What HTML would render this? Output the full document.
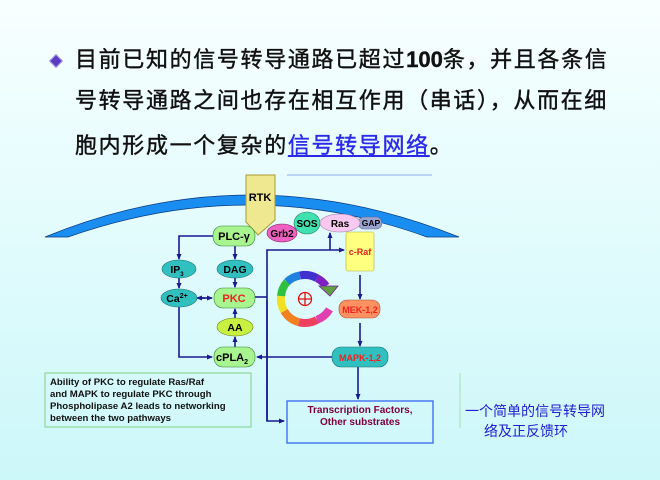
<!DOCTYPE html>
<html><head><meta charset="utf-8"><style>
html,body{margin:0;padding:0}
body{width:660px;height:480px;overflow:hidden;background:linear-gradient(#f8ffff 0%,#e6fcfd 40%,#ccf7f9 100%);position:relative;font-family:"Liberation Sans","Noto Sans CJK SC",sans-serif}
.t{position:absolute;left:75px;font-size:22px;letter-spacing:1.65px;color:#111;white-space:nowrap;font-family:"Liberation Sans","Noto Sans CJK SC",sans-serif;line-height:26px;-webkit-text-stroke:0.4px #111}
.t b{font-family:"Liberation Sans",sans-serif;letter-spacing:0}
a{color:#2a2ae8;text-decoration:underline;-webkit-text-stroke:0.4px #2a2ae8}
.r{position:absolute;font-size:14px;color:#2020d0;letter-spacing:0px;font-family:"Liberation Sans","Noto Sans CJK SC",sans-serif;white-space:nowrap}
</style></head><body>
<div style="position:absolute;left:51px;top:56px;width:8px;height:8px;background:#5a3cc0;transform:rotate(45deg);border:1px solid #b0a0f0"></div>
<div class="t" style="top:47px">目前已知的信号转导通路已超过<b>100</b>条，并且各条信</div>
<div class="t" style="top:88px">号转导通路之间也存在相互作用（串话），从而在细</div>
<div class="t" style="top:133px">胞内形成一个复杂的<a>信号转导网络</a>。</div>
<div class="r" style="left:465px;top:401px">一个简单的信号转导网</div>
<div class="r" style="left:484px;top:421px">络及正反馈环</div>
<svg width="660" height="480" style="position:absolute;left:0;top:0" xmlns="http://www.w3.org/2000/svg" font-family="Liberation Sans, Arial, sans-serif" font-weight="bold">
<defs><marker id="a" markerWidth="6" markerHeight="6" refX="5" refY="3" orient="auto" markerUnits="userSpaceOnUse"><path d="M0,0.5 L6,3 L0,5.5z" fill="#1a1a90"/></marker></defs>
<line x1="287" y1="175" x2="432" y2="175" stroke="#b8d4f0" stroke-width="2"/>
<path d="M45,237 Q250,153 459,237 L427,237 Q250,173 68,237 Z" fill="#1a8ef0" stroke="#0a3a80" stroke-width="0.7"/>
<line x1="460" y1="373" x2="460" y2="428" stroke="#a8e0b0" stroke-width="1"/>
<g stroke="#1a1a90" stroke-width="1.6" fill="none">
<polyline points="213,236 179,236 179,259" marker-end="url(#a)"/>
<line x1="235" y1="246" x2="235" y2="259" marker-end="url(#a)"/>
<line x1="179" y1="278" x2="179" y2="288" marker-end="url(#a)"/>
<line x1="235" y1="278" x2="235" y2="287" marker-end="url(#a)"/>
<line x1="198" y1="298" x2="212" y2="298" marker-end="url(#a)"/>
<line x1="205" y1="298" x2="197" y2="298" marker-end="url(#a)"/>
<polyline points="179,307 179,357 212,357" marker-end="url(#a)"/>
<line x1="235" y1="347" x2="235" y2="337" marker-end="url(#a)"/>
<line x1="235" y1="318" x2="235" y2="309" marker-end="url(#a)"/>
<polyline points="255,297 267,297"/>
<polyline points="267,421 267,250 344,250" marker-end="url(#a)"/>
<line x1="330" y1="250" x2="330" y2="233" marker-end="url(#a)"/>
<polyline points="267,300 267,421 284,421" marker-end="url(#a)"/>
<line x1="332" y1="357" x2="257" y2="357" marker-end="url(#a)"/>
<line x1="360" y1="275" x2="360" y2="299" marker-end="url(#a)"/>
<line x1="360" y1="323" x2="360" y2="346" marker-end="url(#a)"/>
<line x1="358" y1="367" x2="358" y2="399" marker-end="url(#a)"/>
</g>
<path d="M246,175 H275 V220 L258,235 L246,222 Z" fill="#eee890" stroke="#a89a30" stroke-width="1"/>
<text x="260" y="201" font-size="11" text-anchor="middle">RTK</text>
<ellipse cx="282" cy="233" rx="15" ry="9" fill="#f060c0" stroke="#802060" stroke-width="0.6"/>
<text x="282" y="237" font-size="10" text-anchor="middle">Grb2</text>
<ellipse cx="307" cy="223" rx="13" ry="11" fill="#40e0b0" stroke="#208060" stroke-width="0.6"/>
<text x="307" y="227" font-size="10" text-anchor="middle">SOS</text>
<rect x="358" y="217" width="24" height="12" rx="6" fill="#9aa2d0" stroke="#606890" stroke-width="0.6"/>
<text x="371" y="226" font-size="8.5" text-anchor="middle">GAP</text>
<ellipse cx="340" cy="223" rx="20" ry="9" fill="#f8c8f0" stroke="#a080a0" stroke-width="0.6"/>
<text x="340" y="227" font-size="10" text-anchor="middle">Ras</text>
<rect x="346" y="232" width="28" height="39" rx="2" fill="#ffff80" stroke="#b0b040" stroke-width="0.6"/>
<text x="360" y="255" font-size="9" fill="#e02020" text-anchor="middle">c-Raf</text>
<g stroke="#308030" stroke-width="0.6">
<rect x="213" y="226" width="42" height="20" rx="9" fill="#a8f590"/>
<rect x="214" y="288" width="41" height="20" rx="9" fill="#a8f590"/>
<rect x="214" y="347" width="41" height="20" rx="9" fill="#a8f590"/>
</g>
<text x="234" y="240" font-size="11" text-anchor="middle">PLC-γ</text>
<text x="234" y="302" font-size="11" fill="#f02020" text-anchor="middle">PKC</text>
<text x="232" y="361" font-size="11" text-anchor="middle">cPLA<tspan font-size="7" dy="3">2</tspan></text>
<g fill="#30c0c0" stroke="#207070" stroke-width="0.6">
<ellipse cx="179" cy="269" rx="17" ry="9"/>
<ellipse cx="235" cy="269" rx="18" ry="9"/>
<ellipse cx="179" cy="298" rx="18" ry="9"/>
<rect x="332" y="347" width="56" height="20" rx="9"/>
</g>
<text x="177" y="273" font-size="10.5" text-anchor="middle">IP<tspan font-size="6" dy="3">3</tspan></text>
<text x="235" y="273" font-size="10.5" text-anchor="middle">DAG</text>
<text x="177" y="302" font-size="10.5" text-anchor="middle">Ca<tspan font-size="7" dy="-4">2+</tspan></text>
<text x="360" y="361" font-size="9" fill="#f02020" text-anchor="middle">MAPK-1,2</text>
<ellipse cx="235" cy="327" rx="18" ry="9" fill="#c8f040" stroke="#708020" stroke-width="0.6"/>
<text x="235" y="331" font-size="10.5" text-anchor="middle">AA</text>
<rect x="339" y="300" width="41" height="18" rx="8" fill="#ff9060" stroke="#a05030" stroke-width="0.6"/>
<text x="360" y="313" font-size="9" fill="#f02020" text-anchor="middle">MEK-1,2</text>
<g fill="none" stroke-width="8">
<path d="M329.5,309.4 A24,24 0 0 1 317,319.8" stroke="#e040b0"/>
<path d="M317,319.8 A24,24 0 0 1 299,322.2" stroke="#f04060"/>
<path d="M299,322.2 A24,24 0 0 1 284.2,311" stroke="#f08020"/>
<path d="M284.2,311 A24,24 0 0 1 281,296" stroke="#f0e020"/>
<path d="M281,296 A24,24 0 0 1 287,282" stroke="#30c040"/>
<path d="M287,282 A24,24 0 0 1 300,275.5" stroke="#2080e0"/>
<path d="M300,275.5 A24,24 0 0 1 317,278.2" stroke="#4030d0"/>
<path d="M317,278.2 A24,24 0 0 1 326,286" stroke="#8020c0"/>
</g>
<path d="M319,286 L338,286 L330,296 Z" fill="#60a040" stroke="#7020a0" stroke-width="0.8"/>
<circle cx="305" cy="299" r="6.5" fill="none" stroke="#e01010" stroke-width="1.3"/>
<path d="M298.5,299 H311.5 M305,292.5 V305.5" stroke="#e01010" stroke-width="1.3"/>
<rect x="287" y="401" width="146" height="42" fill="none" stroke="#4070f0" stroke-width="1.4"/>
<text x="360" y="413" font-size="10" fill="#800040" text-anchor="middle">Transcription Factors,</text>
<text x="360" y="425" font-size="10" fill="#800040" text-anchor="middle">Other substrates</text>
<rect x="45" y="373" width="206" height="54" fill="none" stroke="#80d080" stroke-width="1"/>
<g font-size="9.6" fill="#111">
<text x="50" y="385">Ability of PKC to regulate Ras/Raf</text>
<text x="50" y="397">and MAPK to regulate PKC through</text>
<text x="50" y="409">Phospholipase A2 leads to networking</text>
<text x="50" y="421">between the two pathways</text>
</g>
</svg>
</body></html>
